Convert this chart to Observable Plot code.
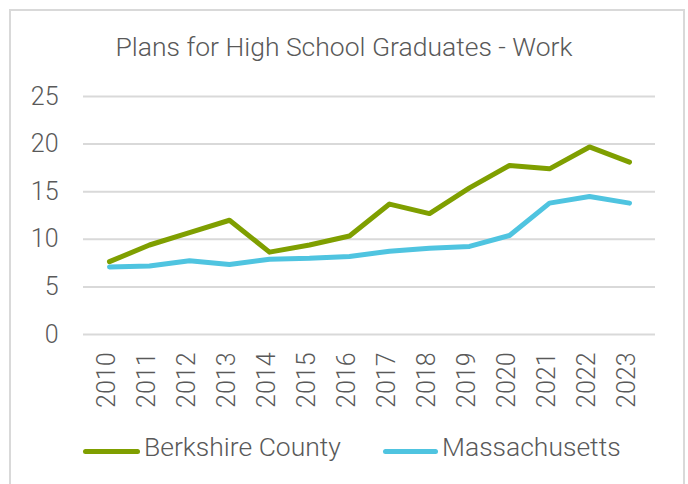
<!DOCTYPE html>
<html>
<head>
<meta charset="utf-8">
<script src="https://cdn.jsdelivr.net/npm/d3@7"></script>
<script src="https://cdn.jsdelivr.net/npm/@observablehq/plot@0.6"></script>
<style>
  html, body { margin: 0; padding: 0; background: #fff; }
  #wrap { position: relative; width: 688px; height: 484px; overflow: hidden; font-family: "Roboto Light", Roboto, "Open Sans", sans-serif; font-weight: 300; color: #595959; }
  #frame { position: absolute; left: 9px; top: 9px; width: 676px; height: 520px; border: 2px solid #d9d9d9; box-sizing: border-box; }
  #title { position: absolute; left: 0; width: 688px; top: 31px; text-align: center; font-size: 26.5px; line-height: 32px; white-space: nowrap; }
  #chart { position: absolute; left: 0; top: 0; }
  .leg { position: absolute; top: 431px; font-size: 26.5px; line-height: 32px; display: flex; align-items: center; white-space: nowrap; }
  .leg span.sw { display: inline-block; height: 5px; border-radius: 3px; margin-right: 4px; position: relative; top: 4px; }
</style>
</head>
<body>
<div id="wrap">
  <div id="frame"></div>
  <div id="chart"></div>
  <div id="title">Plans for High School Graduates - Work</div>
  <div class="leg" style="left:83px"><span class="sw" style="width:57px;background:#7f9f00"></span>Berkshire County</div>
  <div class="leg" style="left:383px"><span class="sw" style="width:55px;background:#4fc4e0"></span>Massachusetts</div>
</div>
<script>
const years = [2010, 2011, 2012, 2013, 2014, 2015, 2016, 2017, 2018, 2019, 2020, 2021, 2022, 2023];
const berkshire = [7.65, 9.4, 10.7, 12.0, 8.65, 9.4, 10.35, 13.7, 12.7, 15.4, 17.75, 17.4, 19.7, 18.1];
const massachusetts = [7.1, 7.2, 7.75, 7.35, 7.9, 8.0, 8.2, 8.75, 9.05, 9.25, 10.4, 13.8, 14.5, 13.8];
const yTicks = [0, 5, 10, 15, 20, 25];
const seriesNames = ["Berkshire County", "Massachusetts"];
const seriesColors = ["#7f9f00", "#4fc4e0"];

const data = [];
years.forEach((yr, i) => {
  data.push({year: String(yr), value: berkshire[i], series: seriesNames[0]});
  data.push({year: String(yr), value: massachusetts[i], series: seriesNames[1]});
});

const font = "'Roboto Light', Roboto, 'Open Sans', sans-serif";
const chart = Plot.plot({
  width: 688,
  height: 420,
  marginLeft: 83,
  marginRight: 33,
  marginTop: 96,
  marginBottom: 86,
  style: {fontFamily: font, fontWeight: 300, fontSize: "25px", color: "#595959", background: "transparent"},
  x: {type: "point", domain: years.map(String), padding: 0.5},
  y: {domain: [0, 25], ticks: yTicks},
  color: {domain: seriesNames, range: seriesColors},
  marks: [
    Plot.ruleY(yTicks, {stroke: "#d9d9d9", strokeWidth: 2}),
    Plot.axisY({ticks: yTicks, tickSize: 0, tickPadding: 25, label: null, fill: "#595959", fontSize: 25}),
    Plot.axisX({tickSize: 0, tickRotate: -90, tickPadding: 18, dx: -3, label: null, fill: "#595959", fontSize: 25}),
    Plot.line(data, {x: "year", y: "value", z: "series", stroke: "series", strokeWidth: 5, strokeLinecap: "round", strokeLinejoin: "round"})
  ]
});
document.getElementById("chart").appendChild(chart);
</script>
</body>
</html>
